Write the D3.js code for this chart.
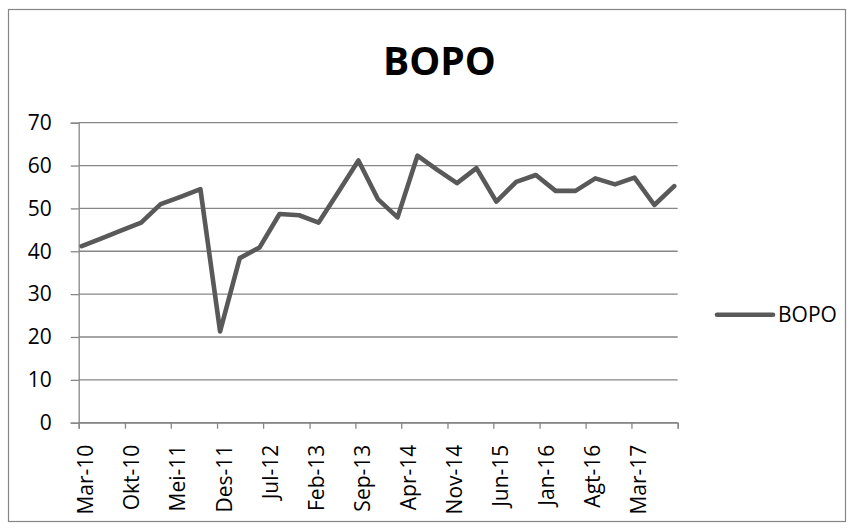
<!DOCTYPE html>
<html>
<head>
<meta charset="utf-8">
<script src="https://cdn.jsdelivr.net/npm/d3@7"></script>
<style>
  body { margin: 0; background: #fff; }
  svg text { font-family: "Open Sans", "Liberation Sans", sans-serif; fill: #000; }
</style>
</head>
<body>
<div id="chart"></div>
<script>
// quarterly BOPO values (Mar-10 .. Sep-17)
var periods = ["2010-03", "2010-06", "2010-09", "2010-12", "2011-03", "2011-06", "2011-09", "2011-12",
    "2012-03", "2012-06", "2012-09", "2012-12", "2013-03", "2013-06", "2013-09", "2013-12",
    "2014-03", "2014-06", "2014-09", "2014-12", "2015-03", "2015-06", "2015-09", "2015-12",
    "2016-03", "2016-06", "2016-09", "2016-12", "2017-03", "2017-06", "2017-09"];
var bopo = [41.2, 43.0, 44.9, 46.7, 51.0, 52.7, 54.5, 21.3,
    38.4, 40.9, 48.7, 48.4, 46.7, 53.9, 61.2, 52.1,
    47.9, 62.3, 59.0, 55.9, 59.4, 51.6, 56.2, 57.8,
    54.1, 54.1, 57.0, 55.6, 57.2, 50.8, 55.2];
var tickLabels = ["Mar-10", "Okt-10", "Mei-11", "Des-11", "Jul-12", "Feb-13", "Sep-13",
    "Apr-14", "Nov-14", "Jun-15", "Jan-16", "Agt-16", "Mar-17"];
var yTicks = [0, 10, 20, 30, 40, 50, 60, 70];
var seriesName = "BOPO";

var W = 854, H = 530;
var margin = { top: 122.7, left: 78.7, right: 854 - 677.7, bottom: 530 - 422.7 };
var width = W - margin.left - margin.right;
var height = H - margin.top - margin.bottom;

var parseMonth = d3.timeParse("%Y-%m");
var data = periods.map(function(p, i) {
    var d = parseMonth(p);
    d.setDate(15);
    return { date: d, value: bopo[i] };
});

var axisStart = parseMonth("2010-03");
// one tick every 7 months, last tick closes the axis
var tickDates = d3.range(tickLabels.length + 1).map(function(k) {
    return d3.timeMonth.offset(axisStart, 7 * k);
});

var x_scale = d3.scaleTime()
    .domain([axisStart, tickDates[tickDates.length - 1]])
    .range([0, width]);
var y_scale = d3.scaleLinear()
    .domain([0, 70])
    .range([height, 0]);

var svg = d3.select("#chart").append("svg")
    .attr("width", W)
    .attr("height", H);

svg.append("rect")
    .attr("x", 8.5).attr("y", 9.5)
    .attr("width", 837).attr("height", 512)
    .attr("fill", "#fff")
    .attr("stroke", "#868686")
    .attr("stroke-width", 1.2);

svg.append("text")
    .attr("x", 439.5)
    .attr("y", 75)
    .attr("text-anchor", "middle")
    .style("font-size", "39px")
    .style("font-weight", "bold")
    .text("BOPO");

var g = svg.append("g")
    .attr("transform", "translate(" + margin.left + "," + margin.top + ")");

// gridlines + y axis
var yAxis = g.append("g")
    .call(d3.axisLeft(y_scale)
        .tickValues(yTicks)
        .tickSize(8)
        .tickPadding(19)
        .tickFormat(d3.format("d")));
yAxis.select(".domain").attr("stroke", "#868686").attr("stroke-width", 1.3);
yAxis.selectAll(".tick line").attr("stroke", "#868686").attr("stroke-width", 1.3);
yAxis.selectAll(".tick text").style("font-size", "21px").attr("fill", "#000");

g.append("g")
    .selectAll("line")
    .data(yTicks)
    .enter().append("line")
    .attr("x1", 0)
    .attr("x2", width)
    .attr("y1", function(d) { return y_scale(d); })
    .attr("y2", function(d) { return y_scale(d); })
    .attr("stroke", "#868686")
    .attr("stroke-width", 1.3);

// x axis
var xAxis = g.append("g")
    .attr("transform", "translate(0," + height + ")")
    .call(d3.axisBottom(x_scale)
        .tickValues(tickDates)
        .tickSize(6)
        .tickFormat(function(d, i) { return tickLabels[i] || ""; }));
xAxis.select(".domain").attr("stroke", "#868686").attr("stroke-width", 1.3);
xAxis.selectAll(".tick line").attr("stroke", "#868686").attr("stroke-width", 1.3);
xAxis.selectAll(".tick text")
    .style("font-size", "21px")
    .attr("fill", "#000")
    .attr("text-anchor", "end")
    .attr("dy", null)
    .attr("x", -22)
    .attr("y", 14)
    .attr("transform", "rotate(-90)");

// series line
var line = d3.line()
    .x(function(d) { return x_scale(d.date); })
    .y(function(d) { return y_scale(d.value); });

g.append("path")
    .datum(data)
    .attr("d", line)
    .attr("fill", "none")
    .attr("stroke", "#595959")
    .attr("stroke-width", 4.6)
    .attr("stroke-linejoin", "round")
    .attr("stroke-linecap", "round");

// legend
var legend = svg.append("g").attr("transform", "translate(717,314.7)");
legend.append("line")
    .attr("x1", 0).attr("x2", 56)
    .attr("stroke", "#595959")
    .attr("stroke-width", 4.6)
    .attr("stroke-linecap", "round");
legend.append("text")
    .attr("x", 61)
    .attr("y", 7.5)
    .style("font-size", "21px")
    .text(seriesName);
</script>
</body>
</html>
